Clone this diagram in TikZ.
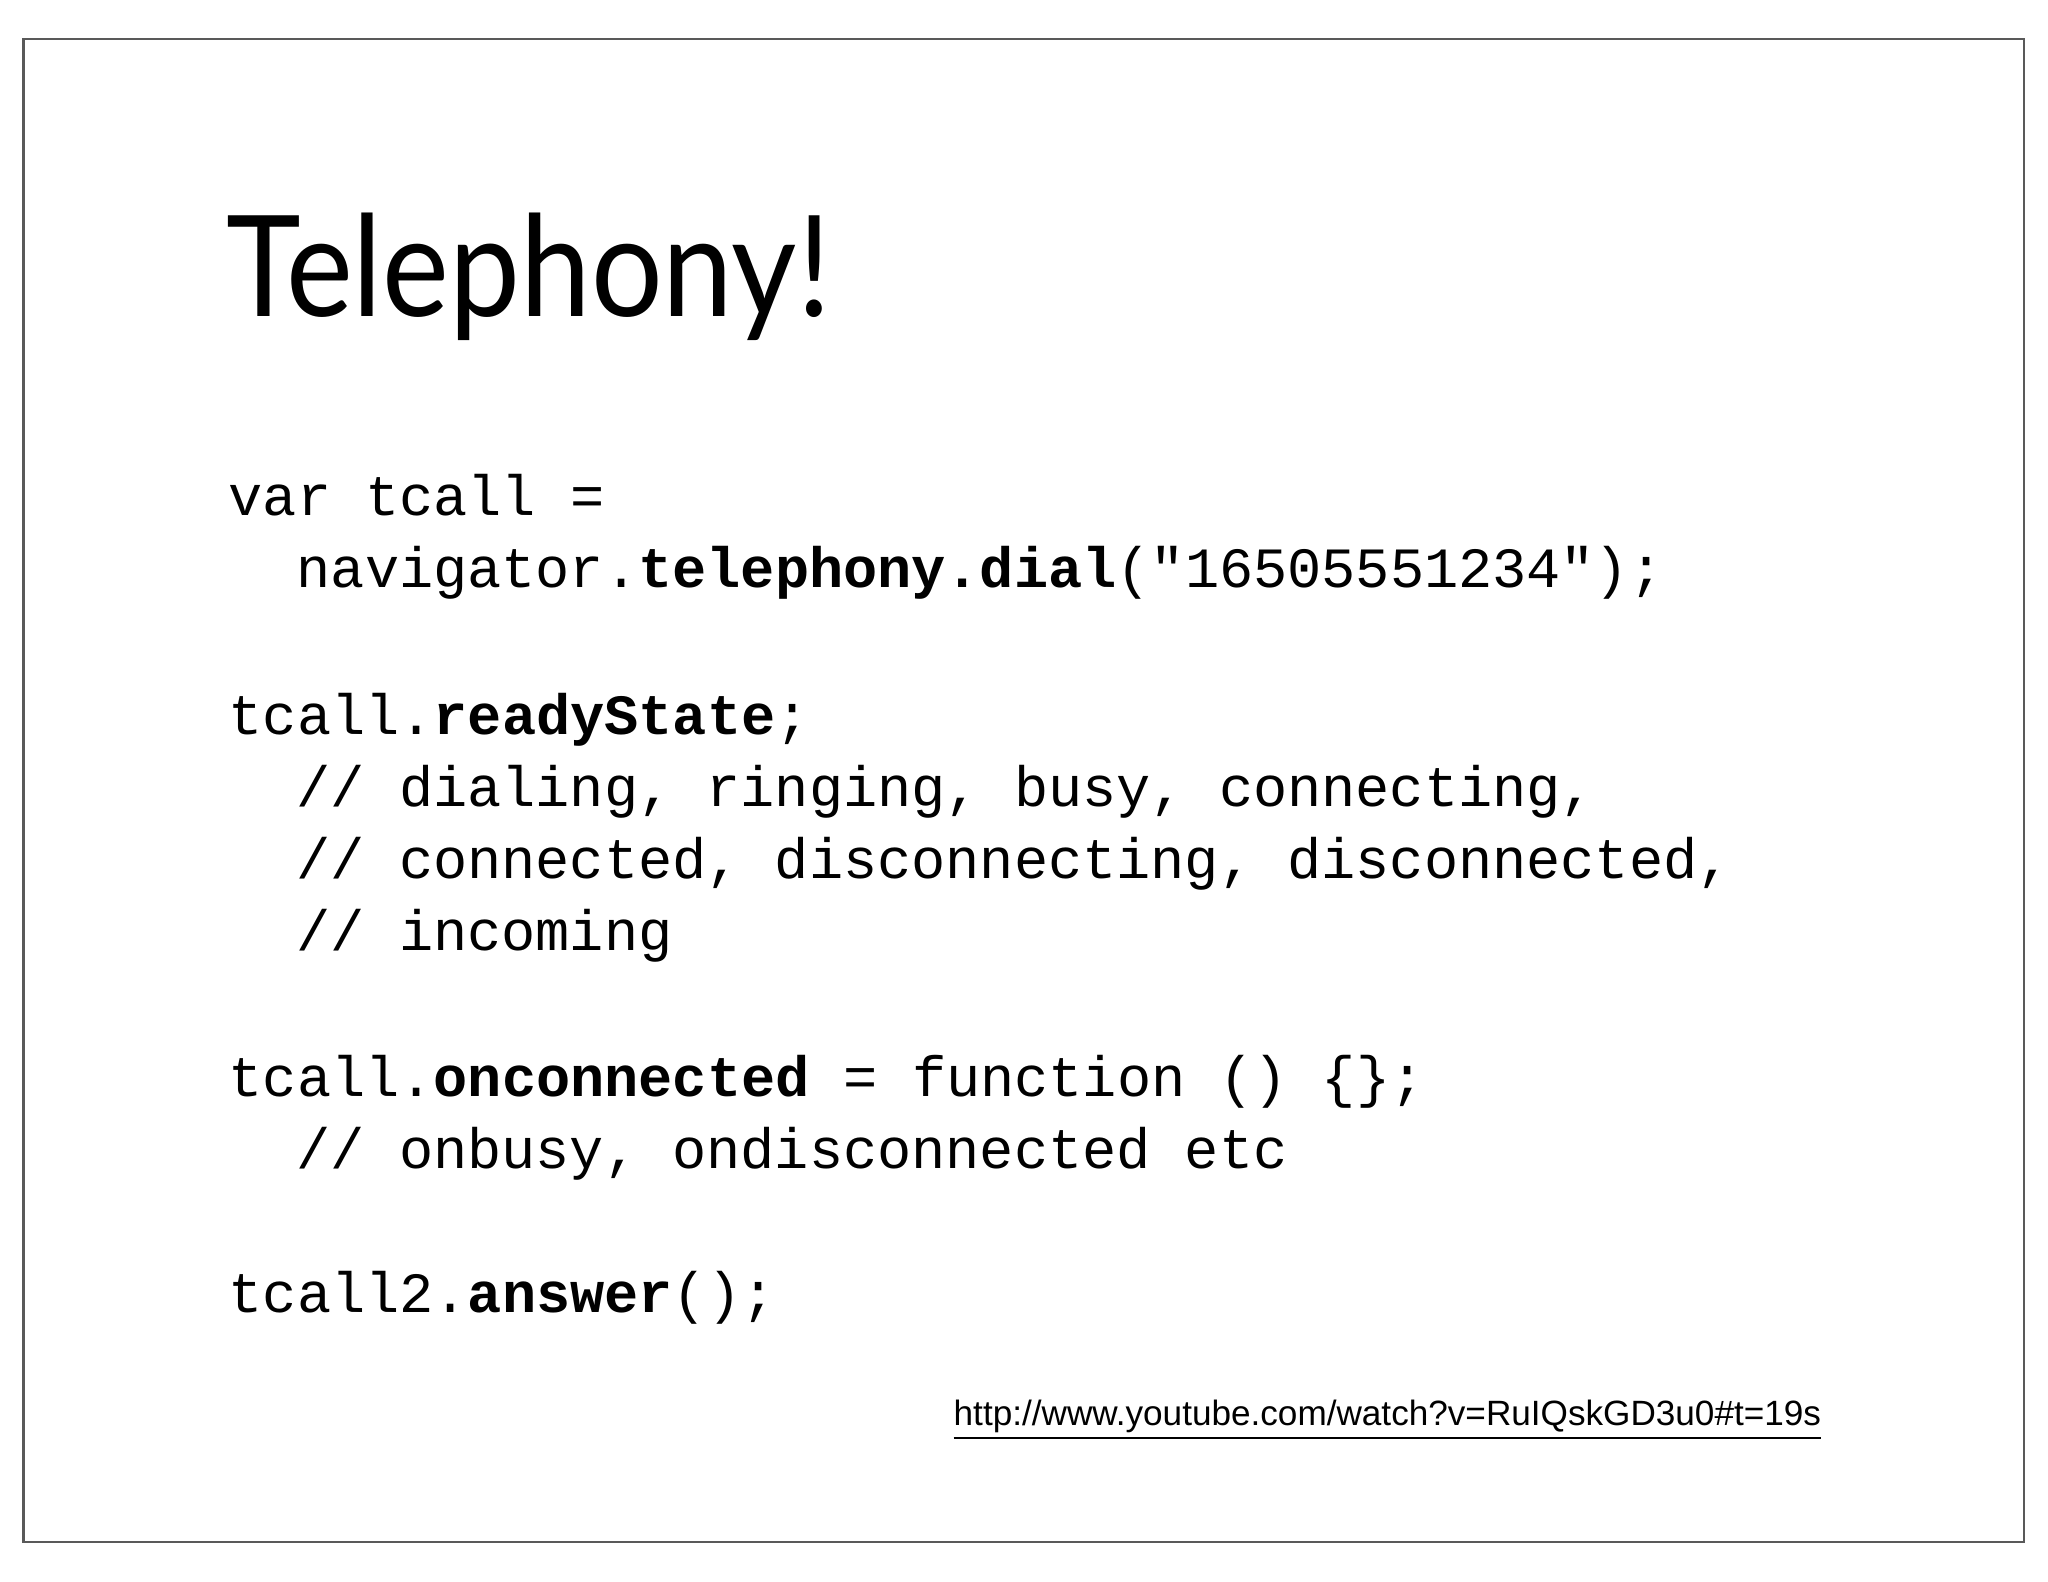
\documentclass[tikz,border=0pt]{standalone}
\usepackage{fontspec}
\setmainfont{Lato}
\setmonofont{Liberation Mono}
\newfontfamily\urlfont{Liberation Sans}
\begin{document}
\begin{tikzpicture}[
  code/.style={anchor=base west,inner sep=0pt,font=\ttfamily\fontsize{16.2}{18}\selectfont}]
\useasboundingbox (0,0) rectangle (20.48,15.82);
\fill[white] (0,0) rectangle (20.48,15.82);
\draw[line width=0.8pt,gray!70!black] (0.235,0.40) rectangle (20.24,15.43);
\node[anchor=base west,inner sep=0pt,xscale=0.9,font=\fontsize{40}{46}\selectfont] (title) at (2.26,12.65) {Telephony!};
\node[code] (l1) at (2.28,10.66) {var tcall =};
\node[code] (l2) at (2.96,9.94) {navigator.\textbf{telephony.dial}("16505551234");};
\node[code] (l3) at (2.28,8.47) {tcall.\textbf{readyState};};
\node[code] (l4) at (2.96,7.75) {// dialing, ringing, busy, connecting,};
\node[code] (l5) at (2.96,7.03) {// connected, disconnecting, disconnected,};
\node[code] (l6) at (2.96,6.31) {// incoming};
\node[code] (l7) at (2.28,4.85) {tcall.\textbf{onconnected} = function () \{\};};
\node[code] (l8) at (2.96,4.13) {// onbusy, ondisconnected etc};
\node[code] (l9) at (2.28,2.69) {tcall2.\textbf{answer}();};
\node[anchor=base west,inner sep=0pt,font=\urlfont\fontsize{10}{12}\selectfont] (url) at (9.53,1.56) {\underline{http://www.youtube.com/watch?v=RuIQskGD3u0\#t=19s}};
\end{tikzpicture}
\end{document}
